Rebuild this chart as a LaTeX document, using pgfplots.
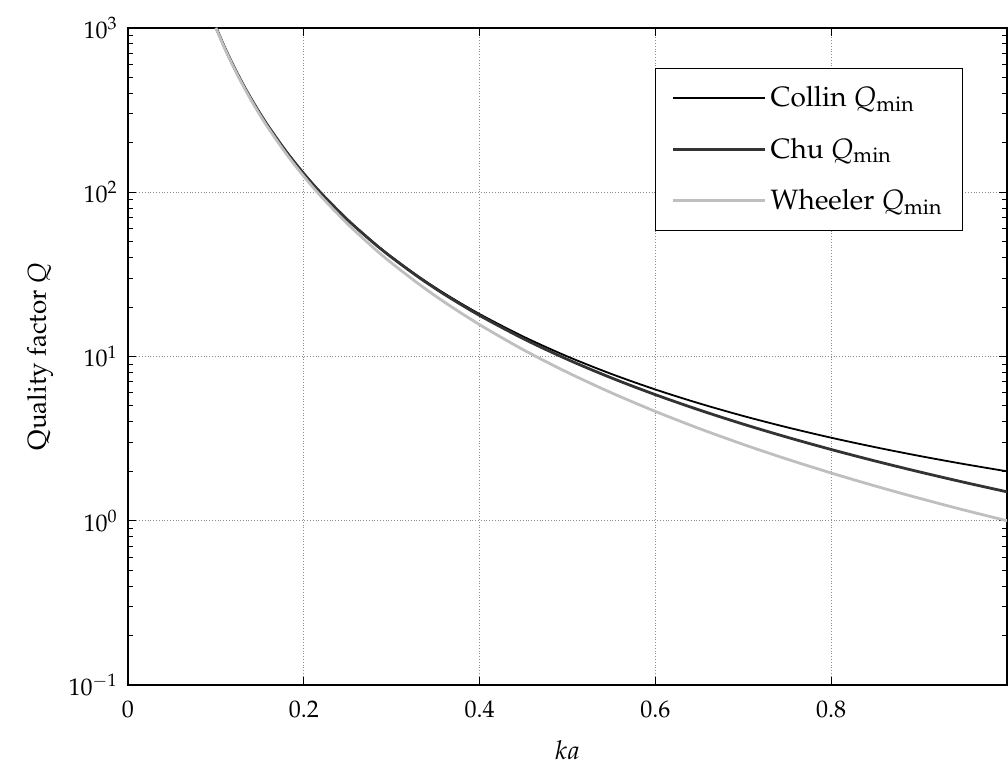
\documentclass[border=0pt]{standalone}
\usepackage[T1]{fontenc}
\usepackage{mathpazo}
\usepackage{pgfplots}
\pgfplotsset{compat=1.18}
\pgfplotstableread{
k Collin Chu Wheeler
0.10 1010.0 1009.9 1000.0
0.11 760.4 760.3 751.3
0.12 587.0 586.9 578.7
0.13 462.9 462.7 455.2
0.14 371.6 371.4 364.4
0.15 303.0 302.8 296.3
0.16 250.4 250.2 244.1
0.18 177.0 176.9 171.5
0.20 130.0 129.8 125.0
0.22 98.46 98.25 93.91
0.25 68.00 67.76 64.00
0.28 49.13 48.87 45.55
0.30 40.37 40.10 37.04
0.33 30.86 30.56 27.83
0.36 24.21 23.89 21.43
0.40 18.13 17.78 15.63
0.45 13.20 12.82 10.97
0.50 10.00 9.60 8.00
0.55 7.829 7.407 6.011
0.60 6.296 5.855 4.630
0.65 5.180 4.723 3.641
0.70 4.344 3.874 2.915
0.75 3.704 3.224 2.370
0.80 3.203 2.715 1.953
0.85 2.805 2.311 1.628
0.90 2.483 1.986 1.372
0.95 2.219 1.720 1.166
1.00 2.000 1.500 1.000
}\qdata
\begin{document}
\begin{tikzpicture}
\begin{axis}[
  scale only axis, width=439.5pt, height=328.5pt,
  xmin=0, xmax=1, ymin=0.1, ymax=1000, ymode=log,
  xtick={0,0.2,0.4,0.6,0.8,1}, xticklabels={0,0.2,0.4,0.6,0.8,{}},
  ytick={0.1,1,10,100,1000},
  grid=major, major grid style={densely dotted, black!45, line width=0.4pt},
  tick align=inside, major tick length=4pt, minor tick length=2.5pt,
  axis line style={line width=0.6pt}, tick style={black, line width=0.5pt},
  ticklabel style={font=\fontsize{12}{14}\selectfont},
  xticklabel style={yshift=-4.5pt},
  yticklabel style={xshift=-1.7pt},
  xlabel={$ka$}, ylabel={Quality factor $Q$},
  label style={font=\fontsize{13}{15}\selectfont},
  xlabel style={at={(axis description cs:0.5,-0.099)}, anchor=center},
  ylabel style={at={(axis description cs:-0.100,0.5)}, anchor=center},
  legend style={at={(rel axis cs:0.6,0.939)}, anchor=north west, draw=black, line width=0.5pt,
    fill=white, font=\fontsize{14}{16}\selectfont, inner xsep=8pt, inner ysep=7pt,
    row sep=10pt},
  legend cell align=left,
  legend image code/.code={\draw[#1] (0pt,0pt) -- (46pt,0pt);},
]
\addplot[black, line width=0.9pt, smooth] table[x=k, y=Collin] {\qdata};
\addlegendentry{Collin $Q_{\mathrm{min}}$}
\addplot[black!80, line width=1.4pt, smooth] table[x=k, y=Chu] {\qdata};
\addlegendentry{Chu $Q_{\mathrm{min}}$}
\addplot[black!25, line width=1.4pt, smooth] table[x=k, y=Wheeler] {\qdata};
\addlegendentry{Wheeler $Q_{\mathrm{min}}$}
\end{axis}
\pgfresetboundingbox
\path ([xshift=-64pt,yshift=-42.5pt]current axis.south west) rectangle ([xshift=0.5pt,yshift=14pt]current axis.north east);
\end{tikzpicture}
\end{document}
